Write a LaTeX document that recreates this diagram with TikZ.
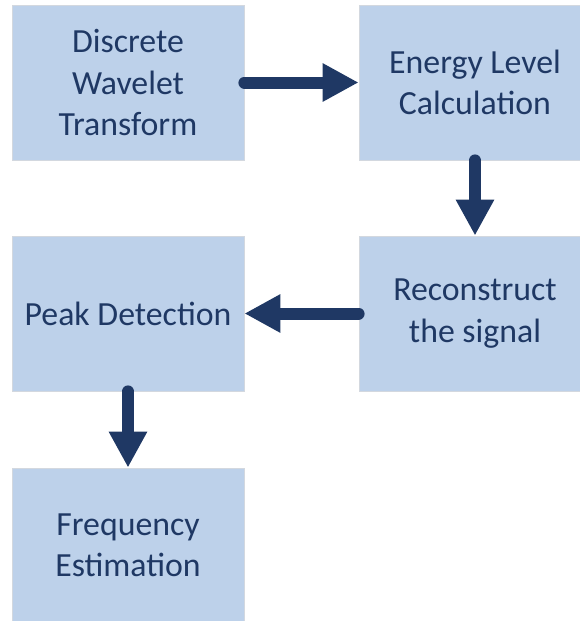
\documentclass[tikz,border=0pt]{standalone}
\usepackage{fontspec}
\setmainfont{Carlito}
\usetikzlibrary{arrows.meta}
\definecolor{boxfill}{HTML}{BDD1EA}
\definecolor{boxedge}{HTML}{D3D8DF}
\definecolor{navy}{HTML}{1F3864}
\begin{document}
\begin{tikzpicture}[x=1pt,y=-1pt,
  stage/.style={draw=boxedge, line width=0.8pt, fill=boxfill,
    minimum width=232pt, minimum height=155pt, inner sep=0pt,
    align=center, text=navy,
    font=\fontsize{33.8}{41.5}\selectfont},
  flow/.style={draw=navy, line width=12pt, line cap=round,
    -{Triangle[length=36pt,width=36pt]}}]
  \useasboundingbox (0,0) rectangle (580,621);
  \clip (0,0) rectangle (580,621);

  \node[stage] (dwt)    at (128,82.5)  {Discrete\\Wavelet\\Transform};
  \node[stage] (energy) at (475,82.5)  {Energy Level\\Calculation};
  \node[stage] (recon)  at (475,313.5) {Reconstruct\\the signal};
  \node[stage] (peak)   at (128,313.5) {Peak Detection};
  \node[stage] (freq)   at (128,545.5) {Frequency\\Estimation};

  \draw[flow] (dwt.east)    -- (energy.west);
  \draw[flow] (energy.south) -- (recon.north);
  \draw[flow] (recon.west)  -- (peak.east);
  \draw[flow] (peak.south)  -- (freq.north);
\end{tikzpicture}
\end{document}
